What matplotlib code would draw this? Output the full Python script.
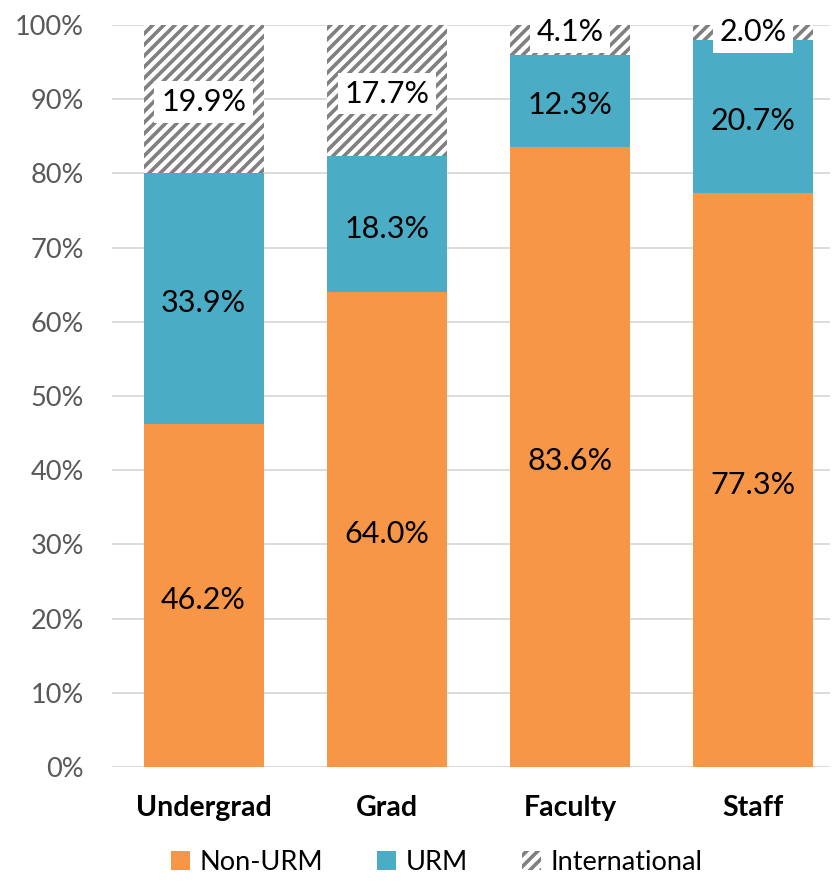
import matplotlib
matplotlib.use("Agg")
import matplotlib.pyplot as plt
import matplotlib as mpl
from matplotlib.patches import Patch

categories = ["Undergrad", "Grad", "Faculty", "Staff"]
non_urm = [46.2, 64.0, 83.6, 77.3]
urm = [33.9, 18.3, 12.3, 20.7]
international = [19.9, 17.7, 4.1, 2.0]
yticks = [0, 10, 20, 30, 40, 50, 60, 70, 80, 90, 100]

plt.rcParams['font.family'] = ['Lato', 'DejaVu Sans']
mpl.rcParams['hatch.color'] = '#808080'
mpl.rcParams['hatch.linewidth'] = 2.6

orange = '#F79646'
blue = '#4BACC6'

fig = plt.figure(figsize=(8.32, 8.83), dpi=100)
ax = fig.add_axes([0.1346, 0.1314, 0.863, 0.8403])

x = list(range(len(categories)))
w = 0.655
ax.bar(x, non_urm, w, color=orange, zorder=2)
ax.bar(x, urm, w, bottom=non_urm, color=blue, zorder=2)
bottoms3 = [a + b for a, b in zip(non_urm, urm)]
ax.bar(x, international, w, bottom=bottoms3, color='white', hatch='///',
       edgecolor='#808080', linewidth=0, zorder=2)

box = dict(boxstyle='square,pad=0.22', facecolor='white', edgecolor='none')
fs = 22
top_cap = 99.0
for i in x:
    ax.text(i, non_urm[i] / 2 - 0.6, f"{non_urm[i]:.1f}%", ha='center', va='center',
            fontsize=fs, color='black', zorder=3)
    ax.text(i, non_urm[i] + urm[i] / 2 - 0.6, f"{urm[i]:.1f}%", ha='center', va='center',
            fontsize=fs, color='black', zorder=3)
    yl = bottoms3[i] + international[i] / 2 - 0.4
    if international[i] < 8:
        yl = top_cap
    ax.text(i, yl, f"{international[i]:.1f}%",
            ha='center', va='center', fontsize=fs, color='black', zorder=3, bbox=box,
            clip_on=False)

ax.set_ylim(0, 100)
ax.set_xlim(-0.5, 3.42)
ax.set_yticks(yticks)
ax.set_yticklabels([f"{t}%" for t in yticks], fontsize=19.5, color='#595959')
ax.set_xticks(x)
ax.set_xticklabels(categories, fontsize=20.5, fontweight='bold', color='black')
ax.tick_params(axis='both', length=0)
ax.tick_params(axis='y', pad=20)
ax.tick_params(axis='x', pad=20)
ax.yaxis.grid(True, color='#D9D9D9', linewidth=1.3, zorder=0)
ax.set_axisbelow(True)
for s in ax.spines.values():
    s.set_visible(False)

handles = [Patch(facecolor=orange, edgecolor='none', label='Non-URM'),
           Patch(facecolor=blue, edgecolor='none', label='URM'),
           Patch(facecolor='white', edgecolor='#808080', hatch='///', linewidth=0, label='International')]
fig.legend(handles=handles, loc='lower center', bbox_to_anchor=(0.525, -0.018), ncol=3,
           frameon=False, fontsize=19.5, handlelength=0.7, handleheight=0.7,
           handletextpad=0.35, columnspacing=2.0)

fig.savefig("out.png", dpi=100)
